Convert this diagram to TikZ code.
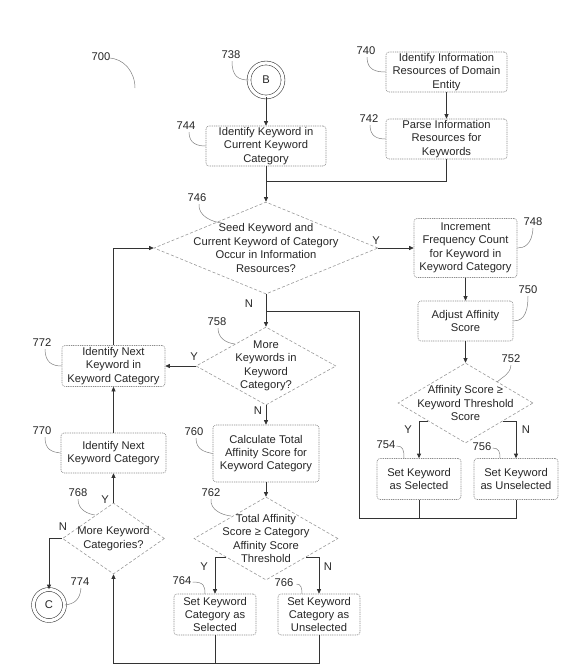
\documentclass[tikz,border=0pt]{standalone}
\usepackage{fontspec}
\setmainfont{Liberation Sans}
\usetikzlibrary{arrows.meta,shapes.geometric,calc}
\begin{document}
\begin{tikzpicture}[x=1pt,y=-1pt,
  every node/.style={font=\fontsize{11.2}{13.4}\selectfont, text=black!85},
  stepbox/.style={draw=black!45, dash pattern=on 1pt off 0.8pt, line width=0.6pt,
     rounded corners=3pt, align=center, inner sep=1pt},
  dia/.style={diamond, draw=black!40, dash pattern=on 3pt off 2pt, line width=0.6pt,
     inner sep=0pt},
  dtext/.style={align=center, inner sep=0pt},
  term/.style={circle, draw=black!75, double, double distance=3.2pt, line width=0.6pt, inner sep=0pt},
  arr/.style={draw=black!80, line width=0.6pt, -{Triangle[length=4.5pt,width=4pt]}},
  ln/.style={draw=black!80, line width=0.6pt},
  leader/.style={draw=black!50, line width=0.5pt},
  num/.style={inner sep=0pt},
  yn/.style={inner sep=0pt}]
\useasboundingbox (0,0) rectangle (579,665);

% ---------- nodes ----------
\node[term, minimum size=34pt] (B) at (266,80) {B};
\node[stepbox, minimum width=121pt, minimum height=40pt] (b740) at (446.5,72) {Identify Information\\Resources of Domain\\Entity};
\node[stepbox, minimum width=121pt, minimum height=40pt] (b742) at (446.5,139) {Parse Information\\Resources for\\Keywords};
\node[stepbox, minimum width=120pt, minimum height=40pt] (b744) at (266,146) {Identify Keyword in\\Current Keyword\\Category};

\node[dia, minimum width=224pt, minimum height=92pt] (d746) at (266,248) {};
\node[dtext] (t746) at (266,248) {Seed Keyword and\\Current Keyword of Category\\Occur in Information\\Resources?};

\node[stepbox, minimum width=103pt, minimum height=59pt] (b748) at (465.5,248) {Increment\\Frequency Count\\for Keyword in\\Keyword Category};
\node[stepbox, minimum width=95pt, minimum height=40pt] (b750) at (465.5,321) {Adjust Affinity\\Score};

\node[dia, minimum width=135pt, minimum height=80pt] (d752) at (465.5,403) {};
\node[dtext] (t752) at (465.5,403) {Affinity Score ≥\\Keyword Threshold\\Score};

\node[stepbox, minimum width=84pt, minimum height=41pt] (b754) at (419,479) {Set Keyword\\as Selected};
\node[stepbox, minimum width=84pt, minimum height=41pt] (b756) at (516,479) {Set Keyword\\as Unselected};

\node[dia, minimum width=140pt, minimum height=78pt] (d758) at (266,366) {};
\node[dtext] (t758) at (266,366) {More\\Keywords in\\Keyword\\Category?};

\node[stepbox, minimum width=103pt, minimum height=41pt] (b772) at (113.5,366) {Identify Next\\Keyword in\\Keyword Category};

\node[stepbox, minimum width=106pt, minimum height=57pt] (b760) at (266,453.5) {Calculate Total\\Affinity Score for\\Keyword Category};

\node[dia, minimum width=144pt, minimum height=83pt] (d762) at (266,538.5) {};
\node[dtext] (t762) at (266,538.5) {Total Affinity\\Score ≥ Category\\Affinity Score\\Threshold};

\node[stepbox, minimum width=82pt, minimum height=41pt] (b764) at (215,614.5) {Set Keyword\\Category as\\Selected};
\node[stepbox, minimum width=82pt, minimum height=41pt] (b766) at (319,614.5) {Set Keyword\\Category as\\Unselected};

\node[stepbox, minimum width=105pt, minimum height=40pt] (b770) at (113.5,453) {Identify Next\\Keyword Category};

\node[dia, minimum width=102pt, minimum height=71pt] (d768) at (113.5,538.5) {};
\node[dtext] (t768) at (113.5,538.5) {More Keyword\\Categories?};

\node[term, minimum size=31pt] (C) at (49,605) {C};

% ---------- reference numbers ----------
\node[num] (l700) at (101,57) {700};
\node[num] (l738) at (231,55) {738};
\node[num] (l740) at (366,51) {740};
\node[num] (l742) at (369,119) {742};
\node[num] (l744) at (186,126) {744};
\node[num] (l746) at (197,198) {746};
\node[num] (l748) at (533,222) {748};
\node[num] (l750) at (528,290) {750};
\node[num] (l752) at (511,359) {752};
\node[num] (l754) at (386,445) {754};
\node[num] (l756) at (482,447) {756};
\node[num] (l758) at (217,322) {758};
\node[num] (l760) at (194,432) {760};
\node[num] (l762) at (211,493) {762};
\node[num] (l764) at (182,581) {764};
\node[num] (l766) at (284,583) {766};
\node[num] (l768) at (78,493) {768};
\node[num] (l770) at (42,431) {770};
\node[num] (l772) at (42,343) {772};
\node[num] (l774) at (80,582) {774};

% ---------- leaders ----------
\coordinate (a700s) at (108,58);
\coordinate (a700e) at (135,88);
\draw[leader] (a700s) .. controls (124,58) and (135,72) .. (a700e);
\draw[leader] ($(l738.south)+(1,2)$) .. controls (232,76) and (238,80) .. (B.west);
\draw[leader] ($(l740.south)+(1,2)$) .. controls (367,70) and (376,72) .. (b740.west);
\draw[leader] ($(l742.south)+(1,2)$) .. controls (370,137) and (378,139) .. (b742.west);
\draw[leader] ($(l744.south)+(3,2)$) .. controls (189,144) and (198,146) .. (b744.west);
\coordinate (e746) at (222,223);
\draw[leader] ($(l746.south)+(2,2)$) .. controls (198,216) and (212,222) .. (e746);
\draw[leader] ($(l748.south)+(0,2)$) .. controls (532,245) and (524,248) .. (b748.east);
\draw[leader] ($(l750.south)+(0,2)$) .. controls (528,318) and (520,321) .. (b750.east);
\coordinate (e752) at (497,382);
\draw[leader] ($(l752.south)+(0,2)$) .. controls (510,375) and (502,377) .. (e752);
\draw[leader] ($(l754.east)+(1,1)$) .. controls (403,446) and (404,450) .. (404,458);
\draw[leader] ($(l756.east)+(1,1)$) .. controls (499,448) and (500,452) .. (500,458);
\coordinate (e758) at (235,344);
\draw[leader] ($(l758.south)+(1,2)$) .. controls (218,338) and (226,343) .. (e758);
\draw[leader] ($(l760.south)+(2,2)$) .. controls (196,450) and (205,452) .. (b760.west);
\coordinate (e762) at (231,516);
\draw[leader] ($(l762.south)+(0,2)$) .. controls (210,510) and (222,515) .. (e762);
\draw[leader] ($(l764.east)+(1,1)$) .. controls (204,582) and (205,586) .. (205,594);
\draw[leader] ($(l766.east)+(3,1)$) .. controls (301,584) and (302,588) .. (302,594);
\coordinate (e768) at (95,515);
\draw[leader] ($(l768.south)+(0,2)$) .. controls (78,510) and (88,514) .. (e768);
\draw[leader] ($(l770.south)+(3,2)$) .. controls (45,450) and (52,452) .. (b770.west);
\draw[leader] ($(l772.south)+(3,2)$) .. controls (45,363) and (53,366) .. (b772.west);
\draw[leader] ($(l774.south)+(1,2)$) .. controls (80,600) and (74,604) .. (C.east);

% ---------- connectors ----------
\draw[arr] (B) -- (b744);
\draw[arr] (b740) -- (b742);
\coordinate (m1) at (266,181);
\draw[ln] (b742.south) |- (m1);
\draw[arr] (b744) -- (d746);

\draw[arr] (d746.east) -- (b748.west);
\node[yn] (y746) at (376,241) {Y};
\draw[arr] (b748) -- (b750);
\draw[arr] (b750) -- (d752);

\coordinate (y752s) at (428,421);
\coordinate (n752s) at (503,421);
\draw[arr] (y752s) -| (b754.north);
\draw[arr] (n752s) -| (b756.north);
\node[yn] (y752) at (408,430) {Y};
\node[yn] (n752) at (526,430) {N};

\coordinate (c1) at (359,518);
\coordinate (c2) at (266,311);
\draw[ln] (b756.south) |- (c1) |- (c2);
\draw[ln] (b754.south) -- (b754.south |- c1);

\draw[arr] (d746.south) -- (d758.north);
\node[yn] (n746) at (249,304) {N};

\draw[arr] (d758.west) -- (b772.east);
\node[yn] (y758) at (194,357) {Y};
\draw[arr] (b772.north) |- (d746.west);

\draw[arr] (d758.south) -- (b760.north);
\node[yn] (n758) at (258,411) {N};
\draw[arr] (b760) -- (d762);

\coordinate (y762s) at (226,557);
\coordinate (n762s) at (306,557);
\draw[arr] (y762s) -| (b764.north);
\draw[arr] (n762s) -| (b766.north);
\node[yn] (y762) at (204,567) {Y};
\node[yn] (n762) at (328,567) {N};

\coordinate (c3) at (113.5,663);
\draw[arr] (b766.south) |- (c3) -- (d768.south);
\draw[ln] (b764.south) -- (b764.south |- c3);

\draw[arr] (d768.north) -- (b770.south);
\node[yn] (y768) at (105,500) {Y};
\draw[arr] (b770.north) -- (b772.south);

\draw[arr] (d768.west) -| (C.north);
\node[yn] (n768) at (63,527) {N};
\end{tikzpicture}
\end{document}
